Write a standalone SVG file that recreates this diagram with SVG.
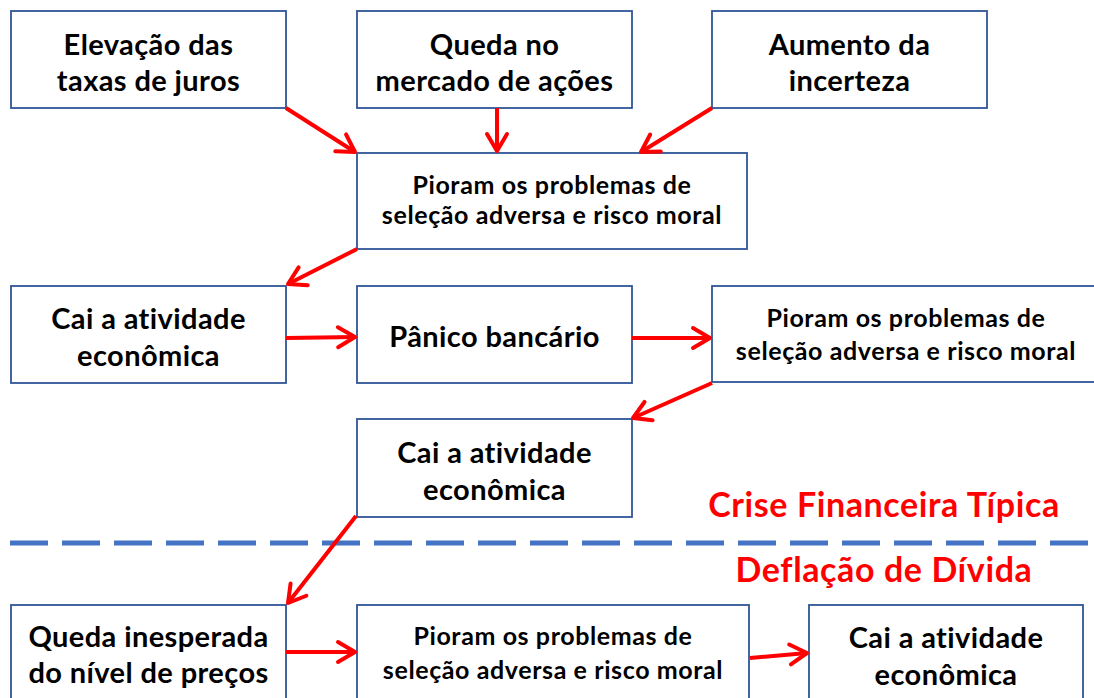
<svg xmlns="http://www.w3.org/2000/svg" width="1094" height="698" viewBox="0 0 1094 698">
<style>
.box{fill:#fff;stroke:#2F5597;stroke-width:1.8}
.t{font-family:Lato,"Liberation Sans",sans-serif;font-weight:bold;fill:#000;text-anchor:middle}
.big{font-size:29px;letter-spacing:0.4px}
.sm{font-size:25px;letter-spacing:0.6px}
.red{font-family:Lato,"Liberation Sans",sans-serif;font-weight:bold;fill:#FF0000;text-anchor:middle;font-size:34px;letter-spacing:0.6px}
.arr{stroke:#FF0000;stroke-width:4;fill:none;marker-end:url(#ah)}
</style>
<defs>
<marker id="ah" viewBox="-22 -13 26 26" refX="0" refY="0" markerWidth="26" markerHeight="26" markerUnits="userSpaceOnUse" orient="auto">
<path d="M-17,-10 L0,0 L-17,10" fill="none" stroke="#FF0000" stroke-width="4" stroke-linecap="round" stroke-linejoin="round"/>
</marker>
</defs>
<rect width="1094" height="698" fill="#fff"/>
<g id="divider">
<line x1="10" y1="543" x2="1094" y2="543" stroke="#4472C4" stroke-width="5" stroke-dasharray="38 14"/>
</g>
<g id="labels">
<text class="red" x="884" y="517">Crise Financeira Típica</text>
<text class="red" x="884" y="582">Deflação de Dívida</text>
</g>
<g id="n1"><rect class="box" x="11" y="11" width="275" height="97"/><text class="t big" x="148.5" y="55">Elevação das</text><text class="t big" x="148.5" y="91">taxas de juros</text></g>
<g id="n2"><rect class="box" x="357" y="11" width="275" height="97"/><text class="t big" x="494.5" y="55">Queda no</text><text class="t big" x="494.5" y="91">mercado de ações</text></g>
<g id="n3"><rect class="box" x="712" y="11" width="275" height="97"/><text class="t big" x="849.5" y="55">Aumento da</text><text class="t big" x="849.5" y="91">incerteza</text></g>
<g id="n4"><rect class="box" x="357" y="153" width="390" height="96"/><text class="t sm" x="552" y="194">Pioram os problemas de</text><text class="t sm" x="552" y="224">seleção adversa e risco moral</text></g>
<g id="n5"><rect class="box" x="11" y="286" width="275" height="97"/><text class="t big" x="148.5" y="329">Cai a atividade</text><text class="t big" x="148.5" y="366">econômica</text></g>
<g id="n6"><rect class="box" x="357" y="286" width="275" height="97"/><text class="t big" x="494.5" y="347">Pânico bancário</text></g>
<g id="n7"><rect class="box" x="712" y="286" width="392" height="96"/><text class="t sm" x="906" y="327">Pioram os problemas de</text><text class="t sm" x="906" y="360">seleção adversa e risco moral</text></g>
<g id="n8"><rect class="box" x="357" y="419" width="275" height="98"/><text class="t big" x="494.5" y="463">Cai a atividade</text><text class="t big" x="494.5" y="500">econômica</text></g>
<g id="n9"><rect class="box" x="11" y="605" width="275" height="100"/><text class="t big" x="148.5" y="647">Queda inesperada</text><text class="t big" x="148.5" y="683">do nível de preços</text></g>
<g id="n10"><rect class="box" x="357" y="605" width="392" height="100"/><text class="t sm" x="553" y="645">Pioram os problemas de</text><text class="t sm" x="553" y="679">seleção adversa e risco moral</text></g>
<g id="n11"><rect class="box" x="809" y="605" width="274" height="100"/><text class="t big" x="946" y="648">Cai a atividade</text><text class="t big" x="946" y="685">econômica</text></g>
<g id="connectors">
<line class="arr" x1="286" y1="108" x2="355" y2="152"/>
<line class="arr" x1="497" y1="108" x2="497" y2="151"/>
<line class="arr" x1="712" y1="108" x2="641" y2="152"/>
<line class="arr" x1="357" y1="249" x2="288" y2="284"/>
<line class="arr" x1="286" y1="338" x2="355" y2="337"/>
<line class="arr" x1="632" y1="338" x2="710" y2="338"/>
<line class="arr" x1="712" y1="383" x2="633" y2="418"/>
<line class="arr" x1="356" y1="516" x2="288" y2="603"/>
<line class="arr" x1="286" y1="652" x2="355" y2="652"/>
<line class="arr" x1="750" y1="658" x2="807" y2="653"/>
</g>
</svg>
